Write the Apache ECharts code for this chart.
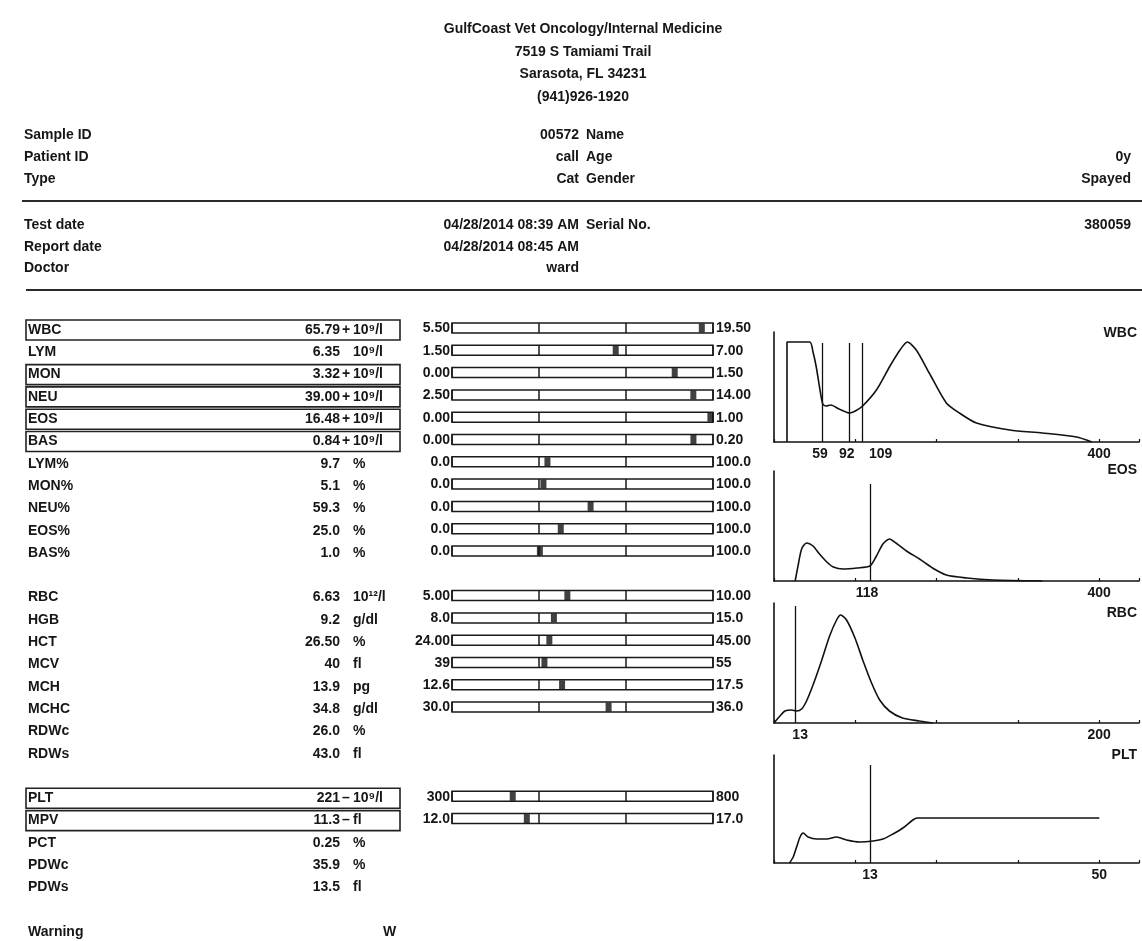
<!DOCTYPE html>
<html><head><meta charset="utf-8">
<script src="https://cdn.jsdelivr.net/npm/echarts@6/dist/echarts.min.js"></script>
<style>html,body{margin:0;padding:0;background:#fff}#c{width:1142px;height:941px}</style>
</head><body><div id="c"></div>
<script>
// ---------- header texts ----------
const clinicLines = ['GulfCoast Vet Oncology/Internal Medicine', '7519 S Tamiami Trail', 'Sarasota, FL 34231', '(941)926-1920'];
const infoLabels1 = ['Sample ID', 'Patient ID', 'Type'];
const infoValues1 = ['00572', 'call', 'Cat'];
const infoLabels2 = ['Name', 'Age', 'Gender'];
const infoValues2 = ['', '0y', 'Spayed'];
const infoLabels3 = ['Test date', 'Report date', 'Doctor'];
const infoValues3 = ['04/28/2014 08:39 AM', '04/28/2014 08:45 AM', 'ward'];
const infoLabels4 = ['Serial No.', '', ''];
const infoValues4 = ['380059', '', ''];

// ---------- result table ----------
const rowLabels = ['WBC','LYM','MON','NEU','EOS','BAS','LYM%','MON%','NEU%','EOS%','BAS%','RBC','HGB','HCT','MCV','MCH','MCHC','RDWc','RDWs','PLT','MPV','PCT','PDWc','PDWs'];
const rowValues = ['65.79','6.35','3.32','39.00','16.48','0.84','9.7','5.1','59.3','25.0','1.0','6.63','9.2','26.50','40','13.9','34.8','26.0','43.0','221','11.3','0.25','35.9','13.5'];
const rowFlags  = ['+','','+','+','+','+','','','','','','','','','','','','','','–','–','','',''];
const rowUnits  = ['10⁹/l','10⁹/l','10⁹/l','10⁹/l','10⁹/l','10⁹/l','%','%','%','%','%','10¹²/l','g/dl','%','fl','pg','g/dl','%','fl','10⁹/l','fl','%','%','fl'];
const rowSlots  = [0,1,2,3,4,5,6,7,8,9,10,12,13,14,15,16,17,18,19,21,22,23,24,25];
const boxedRows = ['WBC','MON','NEU','EOS','BAS','PLT','MPV'];

// ---------- reference range bars ----------
const barRows      = ['WBC','LYM','MON','NEU','EOS','BAS','LYM%','MON%','NEU%','EOS%','BAS%','RBC','HGB','HCT','MCV','MCH','MCHC','PLT','MPV'];
const barLowText   = ['5.50','1.50','0.00','2.50','0.00','0.00','0.0','0.0','0.0','0.0','0.0','5.00','8.0','24.00','39','12.6','30.0','300','12.0'];
const barHighText  = ['19.50','7.00','1.50','14.00','1.00','0.20','100.0','100.0','100.0','100.0','100.0','10.00','15.0','45.00','55','17.5','36.0','800','17.0'];
// marker readings on each bar's own scale (in-range markers = reported value)
const barMarks     = [31.7, 6.35, 2.34, 22.9, 1.97, 0.355, 9.7, 5.1, 59.3, 25.0, 1.0, 6.63, 9.2, 26.5, 40, 13.9, 34.8, 149, 11.3];

// ---------- histograms ----------
const wbcX = [16,16,44,48,52,56,60,64,70,80,93,100,109,126,142,155,164,175,191,212,228,249,290,330,372,391];
const wbcY = [0,100,100,90,75,55,38,36,37,33,29,31,36,52,75,92,100,92,69,39,29,19,12,9,5,0];
const wbcMarks = [59, 92, 109];
const eosX = [26,30,34,40,48,56,65,73,85,102,118,126,134,142,150,163,179,195,212,237,269,330];
const eosY = [0,17,32,38,35,27,19,14,12,13,15,25,37,42,38,30,22,13,6,3,1,0];
const eosMarks = [118];
const rbcX = [0,3.7,6.7,10.8,13.9,17,20,24,29.2,34.2,38.5,41,44.6,49.8,54.8,60,65,71,79,89.6,97.5];
const rbcY = [0,7,12,13,12,14,22,38,62,87,103,108,103,85,62,40,23,12,5,2,0];
const rbcMarks = [13];
const pltX = [0,0.6,1.15,1.7,2.2,3.0,4.4,6.0,7.6,9.2,11.3,13.5,15.1,16.7,18.3,19.9,20.6,50];
const pltY = [0,6,16,26,30,26,24,24,26,23,21,22,24,29,35,43,45,45];
const pltMarks = [13];

const FONT = 'bold 14px "Liberation Sans", Arial, sans-serif';
const INK = '#161616';
const ROW0 = 330, ROWH = 22.3;

const graphic = [];
function txt(t, x, y, align, font) {
  if (!t) return;
  graphic.push({type:'text', x:x, y:y, silent:true,
    style:{text:t, font:font || FONT, fill:INK, textAlign:align||'left', align:align||'left', textVerticalAlign:'middle', verticalAlign:'middle'}});
}
function hline(x1, x2, y, w) {
  graphic.push({type:'line', silent:true, shape:{x1:x1, y1:y, x2:x2, y2:y}, style:{stroke:'#2a2a2a', lineWidth:w}});
}

clinicLines.forEach((t, i) => txt(t, 583, 29 + 22.7 * i, 'center'));
const infoY1 = [135, 157, 179], infoY2 = [225, 247, 268];
infoLabels1.forEach((t, i) => { txt(t, 24, infoY1[i]); txt(infoValues1[i], 579, infoY1[i], 'right'); txt(infoLabels2[i], 586, infoY1[i]); txt(infoValues2[i], 1131, infoY1[i], 'right'); });
infoLabels3.forEach((t, i) => { txt(t, 24, infoY2[i]); txt(infoValues3[i], 579, infoY2[i], 'right'); txt(infoLabels4[i], 586, infoY2[i]); txt(infoValues4[i], 1131, infoY2[i], 'right'); });
hline(22, 1142, 201, 2);
hline(26, 1142, 290, 2);

rowLabels.forEach((name, i) => {
  const y = ROW0 + ROWH * rowSlots[i];
  if (boxedRows.indexOf(name) >= 0) {
    graphic.push({type:'rect', silent:true, shape:{x:26, y:y - 10, width:374, height:20}, style:{fill:'none', stroke:'#222', lineWidth:1.6}});
  }
  txt(name, 28, y);
  txt(rowValues[i], 340, y, 'right');
  txt(rowFlags[i], 342, y);
  txt(rowUnits[i], 353, y);
});
txt('Warning', 28, ROW0 + ROWH * 27);
txt('W', 383, ROW0 + ROWH * 27);

const grids = [], xAxes = [], yAxes = [], series = [];
barRows.forEach((name, i) => {
  const y = ROW0 + ROWH * rowSlots[rowLabels.indexOf(name)];
  const lo = parseFloat(barLowText[i]), hi = parseFloat(barHighText[i]), span = hi - lo;
  const gi = grids.length;
  grids.push({left:452, width:261, top:y - 7, height:10, show:true, borderColor:'#1a1a1a', borderWidth:1.5, backgroundColor:'#fff'});
  xAxes.push({gridIndex:gi, type:'value', min:lo - span, max:hi + span, interval:span,
    axisLine:{show:false}, axisTick:{show:false}, axisLabel:{show:false},
    splitLine:{show:true, lineStyle:{color:'#1a1a1a', width:1.5}}});
  yAxes.push({gridIndex:gi, type:'value', min:-1, max:1, show:false});
  series.push({type:'scatter', xAxisIndex:gi, yAxisIndex:gi, data:[[barMarks[i], 0]], symbol:'rect', symbolSize:[6, 9],
    itemStyle:{color:'#111'}, silent:true, animation:false});
  txt(barLowText[i], 450, y - 1.5, 'right');
  txt(barHighText[i], 716, y - 1.5, 'left');
});

const hists = [
  {name:'WBC', xs:wbcX, ys:wbcY, marks:wbcMarks, top:332, h:110, min:0, max:449, interval:100, end:400, markTop:99, offs:[-2,-2,18], labelY:333},
  {name:'EOS', xs:eosX, ys:eosY, marks:eosMarks, top:471, h:110, min:0, max:449, interval:100, end:400, markTop:97, offs:[-3], labelY:470},
  {name:'RBC', xs:rbcX, ys:rbcY, marks:rbcMarks, top:603, h:120, min:0, max:224.5, interval:50, end:200, markTop:117, offs:[5], labelY:613},
  {name:'PLT', xs:pltX, ys:pltY, marks:pltMarks, top:755, h:108, min:-2.5, max:56.4, interval:13.125, end:50, markTop:98, offs:[0], labelY:755}
];
hists.forEach(hc => {
  const gi = grids.length;
  grids.push({left:774, width:366, top:hc.top, height:hc.h});
  xAxes.push({gridIndex:gi, type:'value', min:hc.min, max:hc.max, interval:hc.interval,
    axisLine:{show:true, onZero:false, lineStyle:{color:'#111', width:1.6}},
    axisTick:{show:true, inside:true, length:3, lineStyle:{color:'#111', width:1.2}},
    axisLabel:{show:true, margin:5, color:INK, fontSize:14, fontWeight:'bold', fontFamily:'Liberation Sans',
      formatter: v => (Math.abs(v - hc.end) < 1e-6 ? String(hc.end) : '')},
    splitLine:{show:false}});
  yAxes.push({gridIndex:gi, type:'value', min:0, max:hc.h,
    axisLine:{show:true, onZero:false, lineStyle:{color:'#111', width:1.6}},
    axisTick:{show:false}, axisLabel:{show:false}, splitLine:{show:false}});
  series.push({type:'line', xAxisIndex:gi, yAxisIndex:gi, data:hc.xs.map((x, k) => [x, hc.ys[k]]),
    showSymbol:false, symbol:'none', smooth:0.25, lineStyle:{color:'#111', width:1.6}, animation:false, silent:true,
    markLine:{silent:true, symbol:['none','none'], animation:false,
      lineStyle:{type:'solid', color:'#111', width:1.3},
      label:{show:true, position:'start', distance:5, color:INK, fontSize:14, fontWeight:'bold', fontFamily:'Liberation Sans', formatter: p => p.name},
      data: hc.marks.map((m, k) => [
        {coord:[m, 0], name:String(m), label:{offset:[hc.offs[k] || 0, 0]}},
        {coord:[m, hc.markTop]}
      ])}});
  txt(hc.name, 1137, hc.labelY, 'right');
});

const chart = echarts.init(document.getElementById('c'), null, {renderer:'canvas'});
chart.setOption({animation:false, backgroundColor:'#fff', grid:grids, xAxis:xAxes, yAxis:yAxes, series:series, graphic:graphic});
</script>
</body></html>
